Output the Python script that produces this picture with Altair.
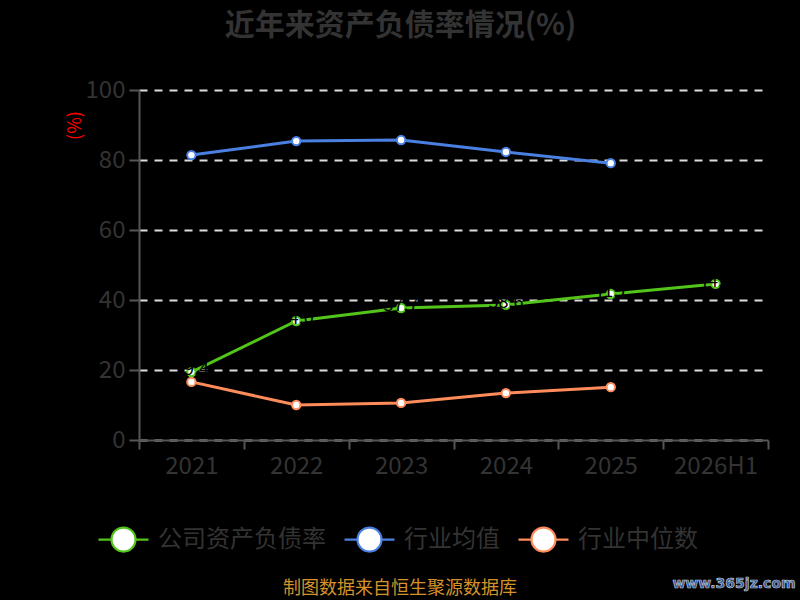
import altair as alt
import pandas as pd
import jinja2

years = ["2021", "2022", "2023", "2024", "2025", "2026H1"]
series_names = ["公司资产负债率", "行业均值", "行业中位数"]
company = [19.4, 34.0, 37.7, 38.6, 41.7, 44.6]
industry_avg = [81.4, 85.4, 85.7, 82.3, 79.1]
industry_median = [16.6, 10.0, 10.6, 13.4, 15.1]
colors = ["#52c41a", "#4a80e2", "#ff8c5a"]

rows = []
for name, vals in zip(series_names, [company, industry_avg, industry_median]):
    for i, v in enumerate(vals):
        rows.append({"idx": i, "year": years[i], "series": name, "value": v})
df = pd.DataFrame(rows)

W, H = 629, 350
FONT = "Noto Sans CJK SC"

x_enc = alt.X(
    "idx:Q",
    scale=alt.Scale(domain=[-0.5, 5.5], nice=False, zero=False),
    axis=alt.Axis(
        values=[-0.5, 0.5, 1.5, 2.5, 3.5, 4.5, 5.5],
        labelExpr="datum.value < 5 ? " + str(years) + "[round(datum.value + 0.5)] : ''",
        labelOffset=W / 12,
        labelFlush=False,
        labelOverlap=False,
        labelFontSize=24,
        labelColor="#333333",
        labelFont=FONT,
        labelPadding=5,
        domainColor="#555555",
        domainWidth=2,
        tickColor="#555555",
        tickWidth=2,
        tickSize=9,
        grid=False,
        title=None,
    ),
)
y_enc = alt.Y(
    "value:Q",
    scale=alt.Scale(domain=[0, 100], nice=False),
    axis=alt.Axis(
        values=[0, 20, 40, 60, 80, 100],
        labelFontSize=24,
        labelColor="#333333",
        labelFont=FONT,
        labelPadding=4,
        labelFlush=False,
        domainColor="#555555",
        domainWidth=2,
        tickColor="#555555",
        tickWidth=2,
        tickSize=10,
        grid=True,
        gridColor="#dddddd",
        gridDash=[8, 7],
        gridWidth=2,
        title="(%)",
        titleColor="#ff0000",
        titleFontSize=18,
        titleFontWeight="normal",
        titleFont=FONT,
        titleX=-64,
        titleY=35,
        titleAngle=270,
        titleAlign="center",
        titleBaseline="middle",
    ),
)

legend_path = "M-1,0L-0.48,0M0.48,0L1,0M-0.48,0A0.48,0.48 0 1 1 0.48,0A0.48,0.48 0 1 1 -0.48,0Z"

color_enc = alt.Color(
    "series:N",
    scale=alt.Scale(domain=series_names, range=colors),
    sort=series_names,
    legend=alt.Legend(
        orient="none",
        legendX=-42,
        legendY=423,
        direction="horizontal",
        title=None,
        symbolType=legend_path,
        symbolSize=2500,
        symbolStrokeWidth=2.2,
        symbolFillColor="#ffffff",
        labelFontSize=24,
        labelColor="#333333",
        labelFont=FONT,
        labelOffset=8,
        labelLimit=0,
        columnPadding=14,
        symbolOpacity=1,
    ),
)

base = alt.Chart(df)

lines = base.mark_line(strokeWidth=3).encode(x=x_enc, y=y_enc, color=color_enc, detail="series:N")
points = base.mark_point(filled=True, fill="#ffffff", size=70, strokeWidth=2, opacity=1).encode(
    x="idx:Q", y="value:Q",
    stroke=alt.Stroke("series:N", scale=alt.Scale(domain=series_names, range=colors), legend=None),
)
labels = base.transform_filter(alt.datum.series == "公司资产负债率").mark_text(
    color="#000000", fontSize=18, font=FONT, dy=-2
).encode(x="idx:Q", y="value:Q", text=alt.Text("value:Q", format=".1f"))

footer = alt.Chart(pd.DataFrame({"t": ["制图数据来自恒生聚源数据库"]})).mark_text(
    color="#d4922a", fontSize=18, font=FONT, align="center", baseline="middle"
).encode(x=alt.value(261), y=alt.value(499), text="t:N")

watermark = alt.Chart(pd.DataFrame({"t": ["www.365jz.com"]})).mark_text(
    color="#2a5aa8", fontSize=14, font="DejaVu Sans", fontWeight="bold",
    stroke="#c8c8c8", strokeWidth=0.7, align="center", baseline="middle"
).encode(x=alt.value(595), y=alt.value(494), text="t:N")

chart = alt.layer(lines, points, labels, footer, watermark).properties(
    width=W,
    height=H,
    background="#000000",
    padding={"left": 139, "top": 90, "right": 32, "bottom": 158},
    autosize=alt.AutoSizeParams(type="none"),
    title=alt.TitleParams(
        "近年来资产负债率情况(%)",
        fontSize=30,
        fontWeight="bold",
        color="#333333",
        font=FONT,
        anchor="middle",
        dx=-53,
        offset=37,
    ),
).configure_view(stroke=None)

page_template = jinja2.Template("""<!DOCTYPE html>
<html>
<head>
<meta charset="utf-8">
<style>
  html, body { background: #000000; overflow: hidden; margin: 0; padding: 0; }
  #{{ output_div }}.vega-embed { width: 100%; display: flex; }
</style>
<script type="text/javascript" src="{{ base_url }}/vega@{{ vega_version }}"></script>
<script type="text/javascript" src="{{ base_url }}/vega-lite@{{ vegalite_version }}"></script>
<script type="text/javascript" src="{{ base_url }}/vega-embed@{{ vegaembed_version }}"></script>
</head>
<body>
<div id="{{ output_div }}"></div>
<script type="text/javascript">
  (function(vegaEmbed) {
    var spec = {{ spec }};
    var embedOpt = {{ embed_options }};
    function showError(el, error){
      el.innerHTML = ('<div style="color:red;"><p>JavaScript Error: ' + error.message + '</p></div>');
      throw error;
    }
    const el = document.getElementById('{{ output_div }}');
    vegaEmbed("#{{ output_div }}", spec, embedOpt).catch(error => showError(el, error));
  })(vegaEmbed);
</script>
</body>
</html>
""")

try:
    chart.save("out.html", embed_options={"renderer": "svg", "actions": False}, template=page_template)
except TypeError:
    chart.save("out.html", embed_options={"renderer": "svg", "actions": False})
